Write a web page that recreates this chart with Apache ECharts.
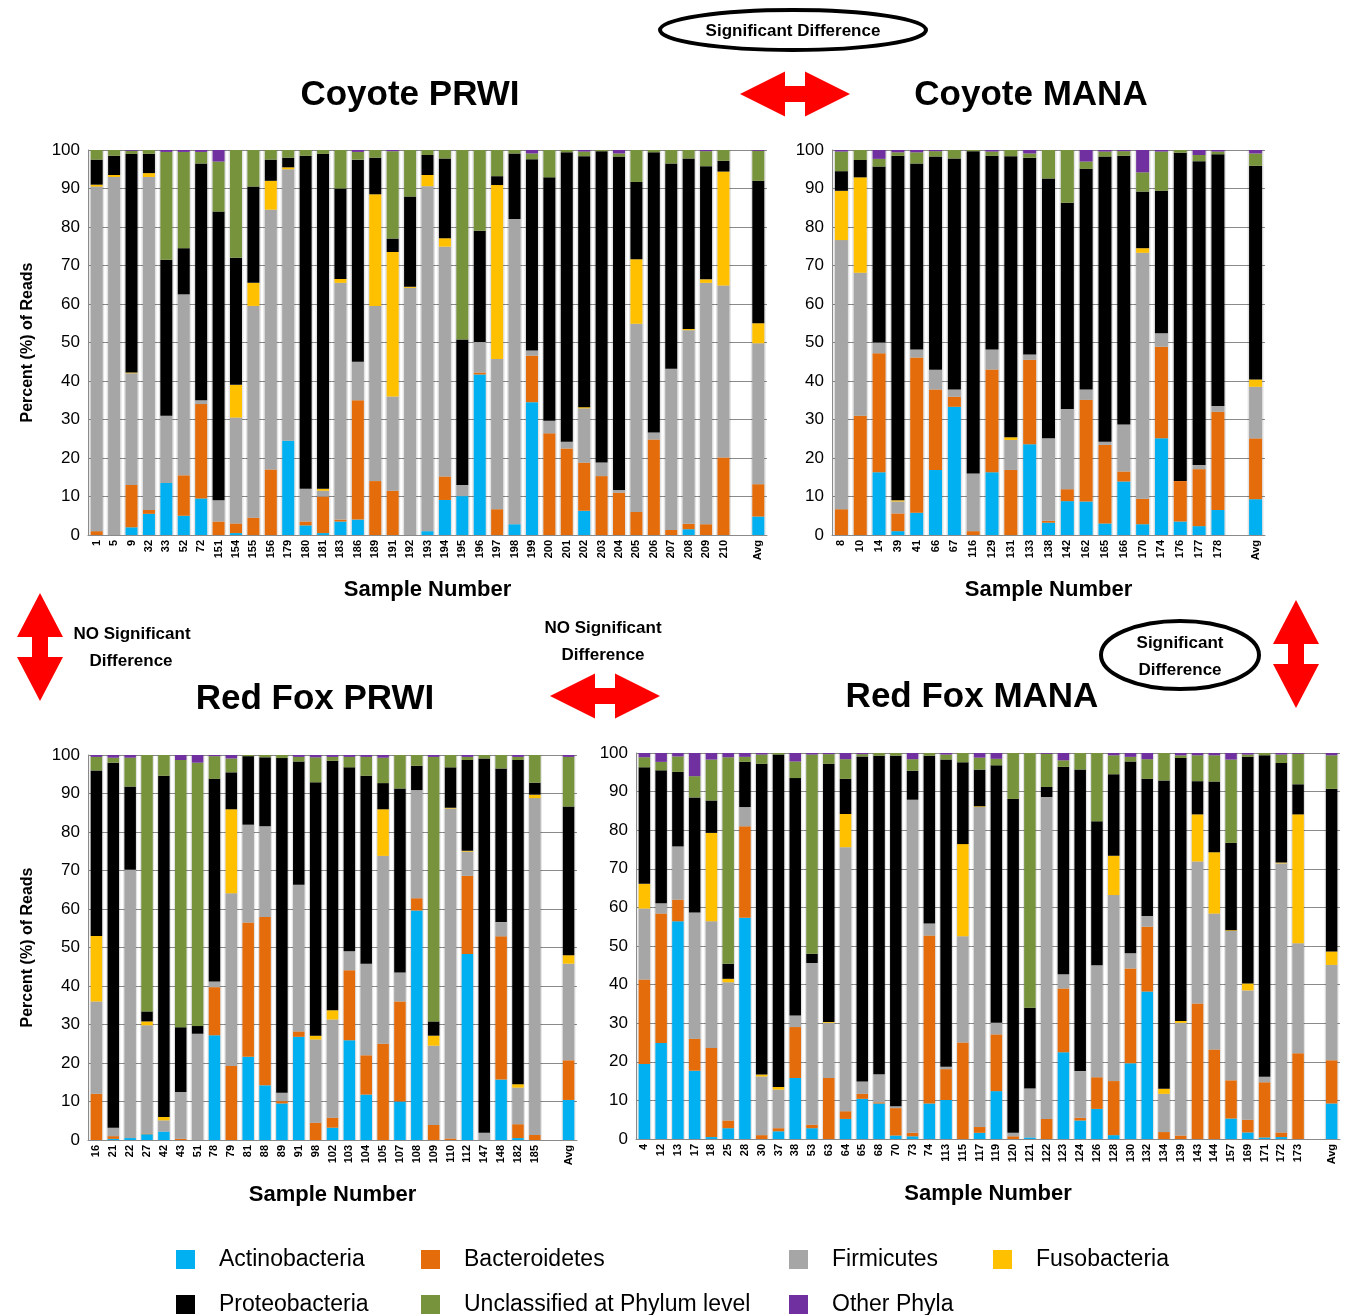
<!DOCTYPE html>
<html>
<head>
<meta charset="utf-8">
<script src="https://cdn.jsdelivr.net/npm/echarts@6/dist/echarts.min.js"></script>
<style>
html,body{margin:0;padding:0;background:#fff;}
#chart{width:1346px;height:1315px;}
</style>
</head>
<body>
<div id="chart"></div>
<script>
// ---------------- DATA ----------------
const phyla = ['Actinobacteria','Bacteroidetes','Firmicutes','Fusobacteria','Proteobacteria','Unclassified at Phylum level','Other Phyla'];

// Coyote PRWI
const coyotePrwiSamples = ['1','5','9','32','33','52','72','151','154','155','156','179','180','181','183','186','189','191','192','193','194','195','196','197','198','199','200','201','202','203','204','205','206','207','208','209','210','Avg'];
const coyotePrwiActino  = [0,0,2,5.5,13.5,5,9.5,0,0.5,0,0,24.5,2.5,0.5,3.5,4,0,0,0,1,9.1,10.1,41.7,0,2.8,34.5,0,0,6.3,0,0,0,0,0,1.5,0,0,4.8];
const coyotePrwiBactero = [1,0,11,1,0,10.5,24.5,3.5,2.5,4.5,17,0,1,9.5,0.5,31,14,11.5,0,0,6.1,0,0.5,6.7,0,12.1,26.4,22.5,12.5,15.3,11,6,24.8,1.3,1.4,2.8,20.1,8.4];
const coyotePrwiFirmic  = [89.5,93,29,86.5,17.5,47,1,5.5,27.5,55,67.5,70.5,8.5,1.5,61.5,10,45.5,24.5,64.2,89.6,59.7,2.9,7.9,39,79.3,1.3,3.3,1.7,14.1,3.5,0.7,48.9,1.8,41.9,50.3,62.7,44.7,36.6];
const coyotePrwiFuso    = [0.5,0.5,0.2,1,0,0,0,0,8.5,6,7.5,0.5,0,0.5,1,0,29,37.5,0.3,2.9,2.2,0,0,45.2,0,0,0,0,0.3,0,0,16.7,0,0,0.3,0.9,29.6,5.2];
const coyotePrwiProteo  = [6.5,5,56.8,5,40.5,12,61.5,75,33,25,5.5,2.5,86.5,87,23.5,52.5,9.5,3.5,23.4,5.2,20.7,37.8,28.9,2.3,17,49.7,63.2,75.2,65.2,80.9,86.6,20.1,72.8,53.3,44.3,29.4,2.8,37];
const coyotePrwiUnclass = [2.5,1.5,0.8,1,28,25,3,13,28,9.5,2.5,2,1.5,1,10,2,2,22.7,12.1,1.3,2.2,49.2,21,6.8,0.9,1.5,7.1,0.6,1.2,0.3,0.8,8.3,0.6,3.5,2.2,3.9,2.8,7.8];
const coyotePrwiOther   = [0,0,0.2,0,0.5,0.5,0.5,3,0,0,0,0,0,0,0,0.5,0,0.3,0,0,0,0,0,0,0,0.9,0,0,0.4,0,0.9,0,0,0,0,0.3,0,0.2];

// Coyote MANA
const coyoteManaSamples = ['8','10','14','39','41','66','67','116','129','131','133','138','142','162','165','166','170','174','176','177','178','Avg'];
const coyoteManaActino  = [0,0,16.3,1,5.8,16.9,33.3,0,16.3,0,23.6,3.2,8.8,8.7,3,13.9,2.8,25.1,3.5,2.3,6.5,9.3];
const coyoteManaBactero = [6.7,31,30.9,4.6,40.3,20.9,2.6,1,26.7,16.9,21.9,0.5,3.1,26.4,20.4,2.6,6.6,23.8,10.5,14.8,25.5,15.8];
const coyoteManaFirmic  = [69.9,37.1,2.8,3.1,2.1,5.1,1.9,15,5.2,7.8,1.4,21.4,20.8,2.7,0.8,12.2,63.9,3.5,0,1.1,1.5,13.4];
const coyoteManaFuso    = [12.8,24.8,0,0.3,0,0,0,0,0,0.7,0,0,0,0,0,0,1.2,0,0,0,0,1.9];
const coyoteManaProteo  = [5.1,4.5,45.7,89.5,48.3,55.4,60,83.7,50.3,73,51.1,67.5,53.6,57.3,74.1,69.8,14.7,37,85.3,78.9,65.4,55.5];
const coyoteManaUnclass = [5.1,2.6,2,0.9,2.9,1.4,2.2,0.3,1.1,1.6,1.1,7.4,13.7,1.9,1.3,1.2,5,10.2,0.7,1.6,0.7,3.2];
const coyoteManaOther   = [0.4,0,2.3,0.6,0.6,0.3,0,0,0.4,0,0.9,0,0,3,0.4,0.3,5.8,0.4,0,1.3,0.4,0.9];

// Red Fox PRWI
const foxPrwiSamples = ['16','21','22','27','42','43','51','78','79','81','88','89','91','98','102','103','104','105','107','108','109','110','112','147','148','182','185','Avg'];
const foxPrwiActino  = [0,0.3,0.5,1.5,2.2,0,0,27.2,0,21.6,14.2,9.5,26.8,0,3.2,25.9,11.8,0,10,59.6,0,0,48.3,0,15.7,0.5,0,10.4];
const foxPrwiBactero = [12,0.7,0,0.2,0,0.3,0,12.5,19.2,34.9,43.7,0.6,1.4,4.5,2.6,18.2,10.2,25,26,3.2,3.9,0.4,20.3,0,37.2,3.6,1.3,10.3];
const foxPrwiFirmic  = [24,2.2,69.7,28.1,2.9,12.2,27.6,1.5,44.9,25.4,23.6,2.2,38.1,21.6,25.5,4.9,23.8,48.8,7.5,28.1,20.6,85.7,6.3,1.9,3.7,9.5,87.5,25.1];
const foxPrwiFuso    = [17,0,0,1,0.9,0,0,0,21.8,0,0,0,0,1,2.4,0,0,12.1,0,0,2.6,0.2,0.2,0,0,0.9,0.9,2.2];
const foxPrwiProteo  = [43,94.8,21.6,2.6,88.6,16.8,2,52.6,9.6,17.8,17.9,86.9,32,65.8,64.8,47.8,48.8,6.8,47.8,6.3,3.7,10.5,23.6,97.2,39.9,84.2,3.1,38.6];
const foxPrwiUnclass = [3.5,1.3,7.5,66.6,5.4,69.4,68.4,5.9,3.6,0.3,0.6,0.8,1.2,6.5,1,2.7,4.9,6.6,8.7,2.8,68.7,3.2,0.8,0.9,3.5,0.8,7.2,12.9];
const foxPrwiOther   = [0.5,0.7,0.7,0,0,1.3,2,0.3,0.9,0,0,0,0.5,0.6,0.5,0.5,0.5,0.7,0,0,0.5,0,0.5,0,0,0.5,0,0.5];

// Red Fox MANA
const foxManaSamples = ['4','12','13','17','18','25','28','30','37','38','53','63','64','65','68','70','73','74','113','115','117','119','120','121','122','123','124','126','128','130','132','134','139','143','144','157','169','171','172','173','Avg'];
const foxManaActino  = [19.4,24.9,56.4,17.7,0.5,2.8,57.3,0,2,15.8,2.8,0,5.2,10.4,9.2,0.9,0.7,9.2,10.1,0,1.6,12.4,0,0.4,0,22.5,4.8,7.8,1,19.6,38.2,0,0,0,0,5.3,1.7,0.4,0.5,0,9.2];
const foxManaBactero = [21.9,33.5,5.6,8.3,23.1,2,23.7,1,0.8,13.2,0.9,15.8,2,1.3,0.3,7.1,0.9,43.5,8,25,1.5,14.7,0.7,0,5.2,16.5,0.7,8.2,14,24.6,16.8,1.8,0.9,35.1,23.2,9.9,3.3,14.3,1.2,22.2,11.2];
const foxManaFirmic  = [18.4,2.7,13.8,32.7,32.8,35.8,5,15.2,10,3,41.9,14.3,68.4,3.2,7.3,0.5,86.3,3.1,0.6,27.5,82.9,3,0.9,12.7,83.4,3.7,12.1,29,48.2,3.9,2.8,9.9,29.2,36.8,35.2,38.7,33.5,1.4,69.7,28.5,24.7];
const foxManaFuso    = [6.4,0,0,0,22.9,0.9,0,0.5,0.7,0,0,0.2,8.6,0,0,0,0,0,0,23.9,0.2,0,0,0,0,0,0,0,10.2,0,0,1.3,0.5,12.2,15.9,0.2,1.8,0,0.2,33.4,3.5];
const foxManaProteo  = [30.2,34.4,19.3,29.8,8.4,3.9,11.7,80.5,86.1,61.5,2.4,66.9,9.1,84.2,82.5,90.8,7.5,43.5,79.6,21.2,9.5,66.7,86.5,20.9,2.6,53.7,78.1,37.3,21.1,49.7,35.5,79.9,68.1,8.6,18.3,22.6,58.7,83.3,25.8,7.8,42.1];
const foxManaUnclass = [2.6,2.2,4,5.5,10.6,53.5,1.3,2.4,0.4,4.3,51.6,2.5,5.1,0.6,0.7,0.7,3,0.7,1.3,2.4,3.1,1.7,11.9,66,8.6,1.7,4.3,17.7,4.9,1.2,5.1,7.1,0.7,6.7,6.8,21.6,0.6,0.6,2.2,7.9,8.7];
const foxManaOther   = [1.1,2.3,0.9,6,1.7,1.1,1,0.4,0,2.2,0.4,0.3,1.6,0.3,0,0,1.6,0,0.4,0,1.2,1.5,0,0,0.2,1.9,0,0,0.6,1,1.6,0,0.6,0.6,0.6,1.7,0.4,0,0.4,0.2,0.6];

// ---------------- STYLE / LAYOUT ----------------
const phylumColors = ['#00b0f0','#e46c0a','#a6a6a6','#ffc000','#000000','#77933c','#7030a0'];
const FONT = "'Liberation Sans', Arial, sans-serif";
const GRIDLINE = '#8a8a8a';

const panels = [
  {samples: coyotePrwiSamples, values: [coyotePrwiActino,coyotePrwiBactero,coyotePrwiFirmic,coyotePrwiFuso,coyotePrwiProteo,coyotePrwiUnclass,coyotePrwiOther],
   grid: {left: 88, top: 150, width: 679, height: 385}, barWidth: 12, halo: 15, yName: true},
  {samples: coyoteManaSamples, values: [coyoteManaActino,coyoteManaBactero,coyoteManaFirmic,coyoteManaFuso,coyoteManaProteo,coyoteManaUnclass,coyoteManaOther],
   grid: {left: 832, top: 150, width: 433, height: 385}, barWidth: 13, halo: 16, yName: false},
  {samples: foxPrwiSamples, values: [foxPrwiActino,foxPrwiBactero,foxPrwiFirmic,foxPrwiFuso,foxPrwiProteo,foxPrwiUnclass,foxPrwiOther],
   grid: {left: 88, top: 755, width: 489, height: 385}, barWidth: 11.5, halo: 14, yName: true},
  {samples: foxManaSamples, values: [foxManaActino,foxManaBactero,foxManaFirmic,foxManaFuso,foxManaProteo,foxManaUnclass,foxManaOther],
   grid: {left: 636, top: 753, width: 704, height: 386}, barWidth: 11.5, halo: 14, yName: false}
];

// insert an empty category before the "Avg" column
function withGap(arr, filler) {
  const n = arr.length;
  return arr.slice(0, n - 1).concat([filler, arr[n - 1]]);
}

const grids = [], xAxes = [], yAxes = [], series = [];
panels.forEach((p, i) => {
  grids.push(Object.assign({containLabel: false}, p.grid));
  const cats = withGap(p.samples, '');
  xAxes.push({
    gridIndex: i, type: 'category', data: cats,
    axisLine: {lineStyle: {color: GRIDLINE, width: 1}},
    axisTick: {show: false},
    axisLabel: {rotate: 90, interval: 0, fontSize: 11, fontWeight: 'bold', color: '#000', margin: 5, fontFamily: FONT},
    name: 'Sample Number', nameLocation: 'middle', nameGap: 44,
    nameTextStyle: {fontSize: 22, fontWeight: 'bold', color: '#000', fontFamily: FONT}
  });
  xAxes.push({gridIndex: i, type: 'category', data: cats, show: false});
  yAxes.push({
    gridIndex: i, type: 'value', min: 0, max: 100, interval: 10,
    axisLine: {show: true, lineStyle: {color: GRIDLINE}},
    axisTick: {show: false},
    splitLine: {show: true, lineStyle: {color: GRIDLINE, width: 1}},
    axisLabel: {fontSize: 17, color: '#000', margin: 8, fontFamily: FONT},
    name: p.yName ? 'Percent (%) of Reads' : '', nameLocation: 'middle', nameGap: 52,
    nameTextStyle: {fontSize: 16, fontWeight: 'bold', color: '#000', fontFamily: FONT}
  });
  // light halo behind each column (height = column total)
  const totals = p.samples.map((s, j) => p.values.reduce((acc, arr) => acc + arr[j], 0));
  series.push({
    type: 'bar', name: 'halo', xAxisIndex: 2 * i + 1, yAxisIndex: i, barWidth: p.halo,
    data: withGap(totals, '-'), silent: true, z: 1,
    itemStyle: {color: 'rgba(0,0,0,0.11)'}
  });
  phyla.forEach((name, k) => {
    series.push({
      type: 'bar', name: name, xAxisIndex: 2 * i, yAxisIndex: i, stack: 'panel' + i,
      barWidth: p.barWidth, data: withGap(p.values[k], '-'), z: 3,
      itemStyle: {color: phylumColors[k]}
    });
  });
});

const legendPos = [
  {left: 176, top: 1248}, {left: 421, top: 1248}, {left: 789, top: 1248}, {left: 993, top: 1248},
  {left: 176, top: 1293}, {left: 421, top: 1293}, {left: 789, top: 1293}
];
const legends = phyla.map((name, k) => ({
  data: [name], left: legendPos[k].left, top: legendPos[k].top, padding: 0,
  itemWidth: 19, itemHeight: 19, icon: 'rect', selectedMode: false,
  textStyle: {fontSize: 23, color: '#000', fontFamily: FONT, padding: [0, 0, 0, 19]}
}));

function hArrow(cx, cy) {
  return {type: 'polygon', shape: {points: [
    [cx - 55, cy], [cx - 10, cy - 22.5], [cx - 10, cy - 8], [cx + 10, cy - 8], [cx + 10, cy - 22.5],
    [cx + 55, cy], [cx + 10, cy + 22.5], [cx + 10, cy + 8], [cx - 10, cy + 8], [cx - 10, cy + 22.5]]},
    style: {fill: '#ff0000'}};
}
function vArrow(cx, cy) {
  return {type: 'polygon', shape: {points: [
    [cx, cy - 54], [cx + 23, cy - 10], [cx + 8, cy - 10], [cx + 8, cy + 10], [cx + 23, cy + 10],
    [cx, cy + 54], [cx - 23, cy + 10], [cx - 8, cy + 10], [cx - 8, cy - 10], [cx - 23, cy - 10]]},
    style: {fill: '#ff0000'}};
}
function label(text, x, y, size, bold) {
  return {type: 'text', x: x, y: y, style: {text: text, fontSize: size, fontWeight: bold ? 'bold' : 'normal',
    fontFamily: FONT, fill: '#000', align: 'center', verticalAlign: 'middle'}};
}

const graphics = [
  label('Coyote PRWI', 410, 95, 35, true),
  label('Coyote MANA', 1031, 95, 35, true),
  label('Red Fox PRWI', 315, 699, 35, true),
  label('Red Fox MANA', 972, 697, 35, true),
  {type: 'ellipse', shape: {cx: 793, cy: 30, rx: 133, ry: 20}, style: {fill: '#fff', stroke: '#000', lineWidth: 4}},
  label('Significant Difference', 793, 31, 17, true),
  hArrow(795, 94),
  vArrow(40, 647),
  label('NO Significant', 132, 634, 17, true),
  label('Difference', 131, 661, 17, true),
  hArrow(605, 696),
  label('NO Significant', 603, 628, 17, true),
  label('Difference', 603, 655, 17, true),
  {type: 'ellipse', shape: {cx: 1180, cy: 655, rx: 79, ry: 34}, style: {fill: '#fff', stroke: '#000', lineWidth: 4}},
  label('Significant', 1180, 643, 17, true),
  label('Difference', 1180, 670, 17, true),
  vArrow(1296, 654)
];

const chart = echarts.init(document.getElementById('chart'), null, {renderer: 'canvas'});
chart.setOption({
  animation: false,
  backgroundColor: '#ffffff',
  textStyle: {fontFamily: FONT},
  grid: grids,
  xAxis: xAxes,
  yAxis: yAxes,
  legend: legends,
  series: series,
  graphic: graphics
});
</script>
</body>
</html>
